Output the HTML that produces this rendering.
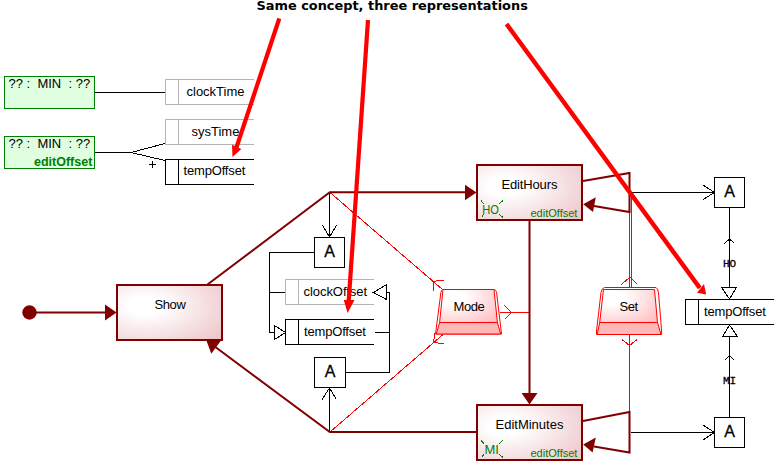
<!DOCTYPE html>
<html lang="en">
<head>
<meta charset="utf-8">
<title>Same concept, three representations</title>
<style>
  html, body { margin: 0; padding: 0; background: #ffffff; }
  body { width: 778px; height: 469px; overflow: hidden; }
  svg { display: block; }
  .t { font-family: "Liberation Sans", Arial, sans-serif; font-size: 13px; fill: #000000; }
  .ta { font-family: "Liberation Sans", Arial, sans-serif; font-size: 16px; fill: #000000; stroke: #000000; stroke-width: 0.3px; }
  .tg { font-family: "Liberation Sans", Arial, sans-serif; font-size: 11px; fill: #008000; }
  .tev { font-family: "Liberation Sans", Arial, sans-serif; font-size: 13px; fill: #008000; }
  .tm { font-family: "Liberation Mono", "Courier New", monospace; font-size: 11px; font-weight: normal; stroke: #000; stroke-width: 0.3px; fill: #000000; }
  .title { font-family: "DejaVu Sans", Verdana, sans-serif; font-weight: bold; font-size: 12.9px; fill: #000000; }
  .eo { font-family: "Liberation Sans", Arial, sans-serif; font-weight: bold; font-size: 12.5px; fill: #008000; }
  .bk { stroke: #000000; stroke-width: 1; fill: none; }
  .gy { stroke: #b4b4b4; stroke-width: 1; fill: none; }
  .dr { stroke: #800000; stroke-width: 2; fill: none; }
  .drf { fill: #800000; stroke: none; }
  .rd { stroke: #ff0000; stroke-width: 1; fill: none; }
  .gr { stroke: #008000; stroke-width: 1; fill: none; }
  .big { stroke: #ff0000; stroke-width: 4.2; fill: none; stroke-linecap: butt; }
  .bigf { fill: #ff0000; stroke: none; }
</style>
</head>
<body>
<svg width="778" height="469" viewBox="0 0 778 469">
  <defs>
    <radialGradient id="gState" cx="0.27" cy="0.38" r="0.9" fx="0.27" fy="0.38">
      <stop offset="0" stop-color="#ffffff"/>
      <stop offset="0.18" stop-color="#ffffff"/>
      <stop offset="1" stop-color="#eec6ca"/>
    </radialGradient>
    <radialGradient id="gKey" cx="0.22" cy="0.25" r="1.0" fx="0.22" fy="0.25">
      <stop offset="0" stop-color="#ffffff"/>
      <stop offset="0.2" stop-color="#ffffff"/>
      <stop offset="1" stop-color="#ffbec2"/>
    </radialGradient>
  </defs>
  <rect x="0" y="0" width="778" height="469" fill="#ffffff"/>

  <!-- Title -->
  <text class="title" x="256.5" y="9.6">Same concept, three representations</text>

  <!-- ===== Left data diagram ===== -->
  <g shape-rendering="crispEdges">
    <rect x="4.5" y="76.5" width="90" height="32" fill="#e0ffe0" stroke="#008000"/>
    <rect x="4.5" y="136.5" width="90" height="32" fill="#e0ffe0" stroke="#008000"/>
    <path class="bk" d="M95 92.5H165"/>
    <path class="bk" d="M95 152.5H131 M131 152.5L165 143.5 M131 152.5L165 160.5"/>
    <path class="bk" d="M149 164.5H156 M152.5 161V168"/>
    <!-- clockTime -->
    <path class="gy" d="M254 79.5H165.5V104.5H254 M178.5 79.5V104.5"/>
    <!-- sysTime -->
    <path class="gy" d="M254 119.5H165.5V144.5H254 M178.5 119.5V144.5"/>
    <!-- tempOffset -->
    <path class="bk" d="M254 159.5H165.5V184.5H254 M178.5 159.5V184.5"/>
  </g>
  <text class="t" x="8.5" y="87.5" xml:space="preserve">?? :  MIN  : ??</text>
  <text class="t" x="8.5" y="147.5" xml:space="preserve">?? :  MIN  : ??</text>
  <text class="eo" x="34" y="165.5">editOffset</text>
  <text class="t" x="186.5" y="95.5">clockTime</text>
  <text class="t" x="191.5" y="135.5">sysTime</text>
  <text class="t" x="183.5" y="175" letter-spacing="-0.17">tempOffset</text>

  <!-- ===== State machine: thin red lines (Mode / Set links) ===== -->
  <g shape-rendering="crispEdges">
    <path class="rd" d="M330 192.5L442.5 289.5"/>
    <path class="rd" d="M330 432L443 334.5"/>
    <path class="rd" d="M444 280.5L433 281.2L433.5 291.5"/>
    <path class="rd" d="M444 343.3L433.4 342.8L435 333"/>
    <path class="rd" d="M500 312.5H529"/>
    <path class="rd" d="M504.5 305.5L511.5 312.5L504.5 319.5"/>
    <!-- Set links -->
    <path class="rd" d="M629.5 193V288 M631.5 193V288"/>
    <path class="rd" d="M629.5 334V412"/>
    <path class="rd" d="M621.5 284.5L630 277L637.5 284.5"/>
    <path class="rd" d="M622 339.5L629.5 345.5L637 339.5"/>
  </g>

  <!-- ===== Inner data diagram (centre) ===== -->
  <g shape-rendering="crispEdges">
    <path class="bk" d="M329.5 193V237"/>
    <path class="bk" d="M322.5 225.5L329.5 237L336.5 225.5"/>
    <rect class="bk" x="314.5" y="237.5" width="30" height="30" fill="#ffffff"/>
    <path class="bk" d="M314.5 252.5H269.5V332.5H274 M269.5 292.5H285.5"/>
    <path class="gy" d="M374 279.5H285.5V304.5H374 M298.5 279.5V304.5"/>
    <path class="bk" d="M374 319.5H285.5V344.5H374 M298.5 319.5V344.5"/>
    <path class="bk" d="M274.5 325.5V339.5L285.5 332.5Z" fill="#ffffff"/>
    <path class="bk" d="M386.5 284.5V299.5L373.5 292.5Z" fill="#ffffff"/>
    <path class="bk" d="M386.5 292.5H389.5V372.5H345.5 M374.5 332.5H389.5"/>
    <rect class="bk" x="314.5" y="357.5" width="31" height="30" fill="#ffffff"/>
    <path class="bk" d="M329.5 388V431"/>
    <path class="bk" d="M322 399.5L329.5 388L336.5 399.5"/>
  </g>
  <text class="ta" x="329.5" y="256.8" text-anchor="middle">A</text>
  <text class="ta" x="330" y="376.8" text-anchor="middle">A</text>
  <text class="t" x="303.5" y="296" letter-spacing="-0.05">clockOffset</text>
  <text class="t" x="304" y="336" letter-spacing="-0.17">tempOffset</text>

  <!-- ===== Right data diagram ===== -->
  <g shape-rendering="crispEdges">
    <path class="bk" d="M631 192.5H714"/>
    <path class="bk" d="M703 185L714.5 192.5L703 199.5"/>
    <rect class="bk" x="714.5" y="177.5" width="30" height="30" fill="#ffffff"/>
    <path class="bk" d="M729.5 208V287"/>
    <path class="bk" d="M724.5 243.5L729.5 239L734.5 243.5"/>
    <path class="bk" d="M721.5 287.5H736.5L729.5 299Z" fill="#ffffff"/>
    <path class="bk" d="M774 299.5H685.5V324.5H774 M698.5 299.5V324.5"/>
    <path class="bk" d="M722.5 336.5H737.5L729.5 325Z" fill="#ffffff"/>
    <path class="bk" d="M729.5 337V417"/>
    <path class="bk" d="M724.5 360.5L729.5 355.5L734.5 360.5"/>
    <rect class="bk" x="714.5" y="417.5" width="30" height="30" fill="#ffffff"/>
    <path class="bk" d="M631 432.5H714"/>
    <path class="bk" d="M703 425L714.5 432.5L703 440"/>
  </g>
  <text class="ta" x="729.5" y="196.7" text-anchor="middle">A</text>
  <text class="ta" x="729.5" y="436.8" text-anchor="middle">A</text>
  <text class="t" x="704" y="316" letter-spacing="-0.17">tempOffset</text>
  <text class="tm" x="723" y="267.3">HO</text>
  <text class="tm" x="723" y="383.5">MI</text>

  <!-- ===== State machine: dark-red transitions ===== -->
  <g>
    <circle class="drf" cx="29.5" cy="312.5" r="7.2"/>
    <path class="dr" d="M29 312.5H106"/>
    <path class="drf" d="M105 304.5V320.5L116.5 312.5Z"/>
    <!-- Show -> EditHours -->
    <path class="dr" d="M207.5 284.5L329.8 192.3H466" stroke-linejoin="miter"/>
    <path class="drf" d="M465 184.8V200.3L476.5 192.5Z"/>
    <!-- EditHours -> EditMinutes -->
    <path class="dr" d="M529.5 221V394"/>
    <path class="drf" d="M521.5 393H537.5L529.5 404.5Z"/>
    <!-- EditMinutes -> Show -->
    <path class="dr" d="M476 432H329.8L212 344.5" stroke-linejoin="miter"/>
    <path class="drf" d="M206.2 340L221.2 340.3L211.3 353.8Z"/>
    <!-- self loops -->
    <path class="dr" d="M583 181L629.5 173V212L594 206" stroke-linejoin="miter"/>
    <path class="drf" d="M583.2 204.2L595.8 197.3L593 212Z"/>
    <path class="dr" d="M583 421L629.5 412V452.5L594 446.5" stroke-linejoin="miter"/>
    <path class="drf" d="M583.2 444.6L595.8 437.4L592.6 452.4Z"/>
  </g>

  <!-- ===== States ===== -->
  <rect x="117" y="285" width="105" height="55" fill="url(#gState)" stroke="#800000" stroke-width="2"/>
  <rect x="477" y="165" width="105" height="55" fill="url(#gState)" stroke="#800000" stroke-width="2"/>
  <rect x="477" y="405" width="105" height="55" fill="url(#gState)" stroke="#800000" stroke-width="2"/>
  <text class="t" x="154.5" y="308.5" letter-spacing="-0.4">Show</text>
  <text class="t" x="501.5" y="189" letter-spacing="-0.15">EditHours</text>
  <text class="t" x="495.5" y="429">EditMinutes</text>
  <text class="tg" x="530.5" y="216.5">editOffset</text>
  <text class="tg" x="530.5" y="456.5">editOffset</text>
  <text class="tev" transform="translate(482.2 214) scale(0.85 1)">HO</text>
  <text class="tev" x="484.5" y="454">MI</text>
  <g shape-rendering="crispEdges">
    <path class="gr" d="M481 200.5L483.5 204 M483.5 214.5L481.5 217.5 M499 204L503 200.5 M499 214L503 217.5"/>
    <path class="gr" d="M481 440L484 444 M484 454L481.5 457.5 M499 444L503 440 M499 454L503 457.5"/>
  </g>

  <!-- ===== Buttons (keys) ===== -->
  <g>
    <!-- Mode -->
    <path d="M442.5 289.5H494.5Q496 289.8 496.6 292.5L501.5 334H435.5L440.9 292.5Q441.4 289.8 442.5 289.5Z" fill="#ffffff" stroke="#ff0000" stroke-width="1"/>
    <path d="M439.6 322.5H497.4L500.7 334H436.3Z" fill="#ffb8b8" stroke="#ff0000" stroke-width="1"/>
    <path d="M443 289.5H494L497.4 322.5H439.6Z" fill="url(#gKey)" stroke="#ff0000" stroke-width="1"/>
    <!-- Set -->
    <path d="M604.5 287.5H656Q657.8 288 658.5 293L661.6 331V334.5H596.5V331L601 292.5Q601.8 288 604.5 287.5Z" fill="#ffffff" stroke="#ff0000" stroke-width="1"/>
    <path d="M599.7 322.5H657.5L661 334.5H597.2Z" fill="#ffb8b8" stroke="#ff0000" stroke-width="1"/>
    <path d="M603.5 289.5H654.5L657.5 322.5H599.7Z" fill="url(#gKey)" stroke="#ff0000" stroke-width="1"/>
  </g>
  <text class="t" x="453.5" y="310.5" letter-spacing="-0.4">Mode</text>
  <text class="t" x="619.5" y="311" letter-spacing="-0.4">Set</text>

  <!-- ===== Big red annotation arrows ===== -->
  <g>
    <path class="big" d="M279.3 18.5L236.3 148"/>
    <path class="bigf" d="M232 144.8L241.3 149.1L232.5 157Z"/>
    <path class="big" d="M368 20L348.7 301"/>
    <path class="bigf" d="M343.8 300H354.5L347.6 313Z"/>
    <path class="big" d="M506.5 24L699.8 288" style="stroke-width:4.5"/>
    <path class="bigf" d="M704 284L697 292.8L706.2 294.5Z"/>
  </g>
</svg>
</body>
</html>
